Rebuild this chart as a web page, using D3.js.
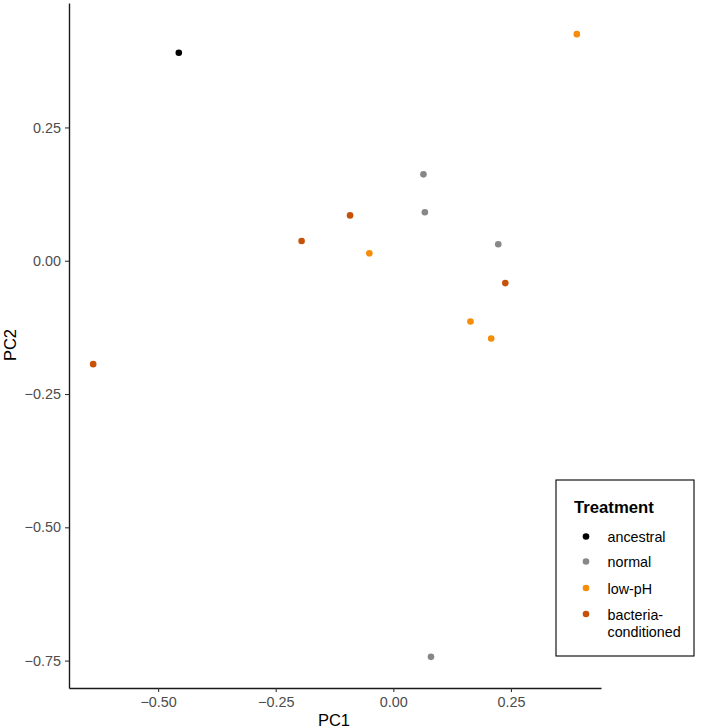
<!DOCTYPE html>
<html><head><meta charset="utf-8">
<script src="https://cdn.jsdelivr.net/npm/d3@7"></script>
<style>body{margin:0;background:#fff}svg{font-family:"Liberation Sans",Arial,sans-serif}</style>
</head><body><svg id="c" width="704" height="728"></svg>
<script>
const treatments = ["ancestral","normal","low-pH","bacteria-conditioned"];
const colors = ["#000000","#878787","#f58c0a","#c65208"];
const pc1 = [-0.456, 0.390, -0.638, 0.080, 0.064, 0.067, -0.092, -0.195, -0.051, 0.223, 0.238, 0.164, 0.208];
const pc2 = [0.390, 0.425, -0.194, -0.743, 0.162, 0.091, 0.085, 0.037, 0.014, 0.031, -0.042, -0.114, -0.146];
const group = ["ancestral","low-pH","bacteria-conditioned","normal","normal","normal","bacteria-conditioned","bacteria-conditioned","low-pH","normal","bacteria-conditioned","low-pH","low-pH"];
const xTicks = [-0.50,-0.25,0.00,0.25];
const yTicks = [-0.75,-0.50,-0.25,0.00,0.25];

const svg = d3.select("#c");
function expand(e){const r=e[1]-e[0];return [e[0]-0.05*r,e[1]+0.05*r];}
const x = d3.scaleLinear().domain(expand(d3.extent(pc1))).range([69,601]);
const y = d3.scaleLinear().domain(expand(d3.extent(pc2))).range([688,3]);
const color = d3.scaleOrdinal().domain(treatments).range(colors);
const fmt = d=>d3.format(".2f")(d).replace("-","\u2212");

const xa = svg.append("g").attr("transform","translate(0,688)")
  .call(d3.axisBottom(x).tickValues(xTicks).tickFormat(fmt).tickSize(4).tickPadding(4).tickSizeOuter(0));
const ya = svg.append("g").attr("transform","translate(69,0)")
  .call(d3.axisLeft(y).tickValues(yTicks).tickFormat(fmt).tickSize(4).tickPadding(4).tickSizeOuter(0));
[xa,ya].forEach(a=>{
  a.select(".domain").attr("stroke","#1a1a1a").attr("stroke-width",1.4);
  a.selectAll(".tick line").attr("stroke","#333").attr("stroke-width",1.1);
  a.selectAll(".tick text").attr("fill","#4d4d4d").style("font-size","14.4px");
});
xa.selectAll(".tick text").attr("dy","0.75em");

svg.append("text").attr("x",334).attr("y",726).attr("text-anchor","middle").style("font-size","16.5px").attr("fill","#000").text("PC1");
svg.append("text").attr("transform","translate(16,345) rotate(-90)").attr("text-anchor","middle").style("font-size","16.5px").attr("fill","#000").text("PC2");

svg.append("g").selectAll("circle").data(pc1.map((v,i)=>({x:v,y:pc2[i],g:group[i]})))
  .join("circle").attr("cx",d=>x(d.x)).attr("cy",d=>y(d.y)).attr("r",3.3).attr("fill",d=>color(d.g));

const lg = svg.append("g");
lg.append("rect").attr("x",556).attr("y",480).attr("width",138).attr("height",176).attr("fill","#fff").attr("stroke","#000").attr("stroke-width",1.1);
lg.append("text").attr("x",574).attr("y",512.7).style("font-size","16.7px").style("font-weight","bold").text("Treatment");
const ly = [536.5,561.5,588,614];
const labels = [["ancestral"],["normal"],["low-pH"],["bacteria-","conditioned"]];
treatments.forEach((t,i)=>{
  lg.append("circle").attr("cx",586).attr("cy",ly[i]).attr("r",3.3).attr("fill",color(t));
  const tx = lg.append("text").attr("x",607.5).attr("y",ly[i]+5.5).style("font-size",14.3+"px").attr("fill","#000");
  labels[i].forEach((s,j)=>tx.append("tspan").attr("x",607.5).attr("dy",j?17.3:0).text(s));
});
</script></body></html>
